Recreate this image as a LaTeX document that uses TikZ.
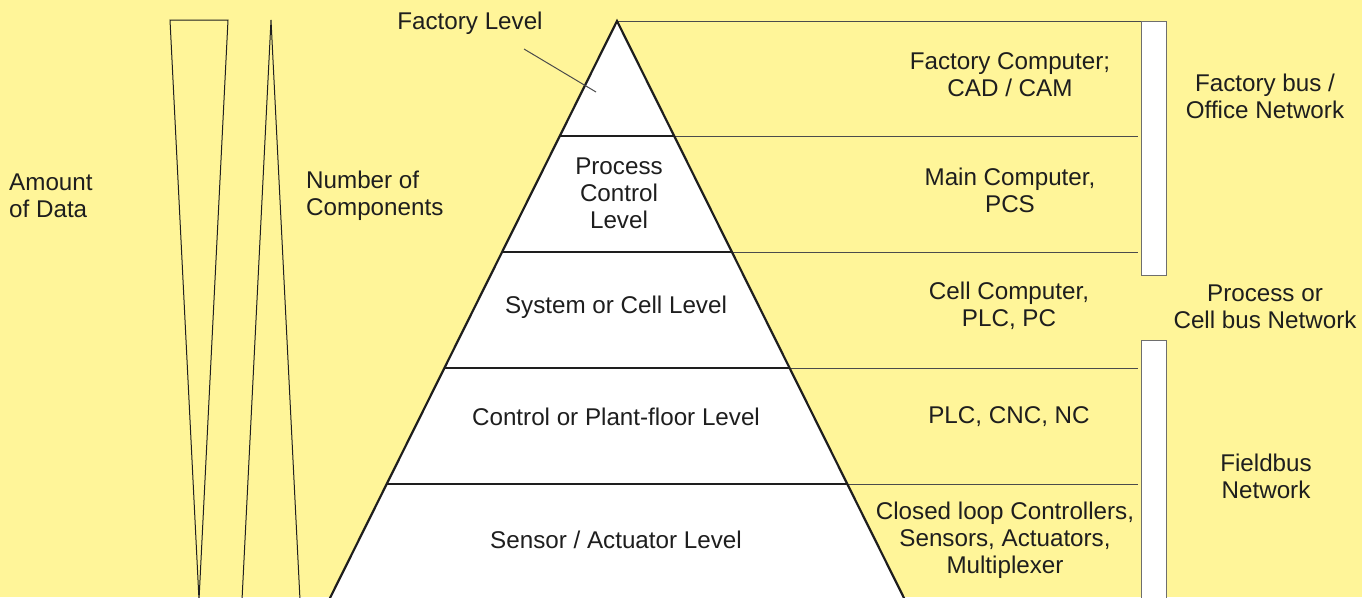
\documentclass[tikz,border=0pt]{standalone}
\usepackage{fontspec}
\setmainfont{Liberation Sans}
\definecolor{bgyellow}{RGB}{255,245,153}
\definecolor{ink}{RGB}{30,30,30}
\definecolor{boxgray}{RGB}{110,110,110}
\begin{document}
\begin{tikzpicture}[x=1pt,y=-1pt,
  lbl/.style={text=ink,font=\fontsize{24.2}{27}\selectfont,align=center,inner sep=0pt},
  lbll/.style={lbl,align=left,anchor=west},
  pyr/.style={draw=ink,line width=2.2pt,line join=miter},
  lvl/.style={draw=ink,line width=2pt},
  ext/.style={draw=ink!80,line width=1pt},
  wedge/.style={draw=ink,line width=1pt},
  busbox/.style={draw=boxgray,fill=white,line width=1pt}]
\fill[bgyellow] (0,0) rectangle (1362,597);
\useasboundingbox (0,0) rectangle (1362,597);
\begin{scope}
\clip (0,0) rectangle (1362,597);
% wedges
\draw[wedge] (170,20) -- (228,20) -- (199,600) -- cycle;
\draw[wedge] (271,20) -- (241,620) (271,20) -- (301,620);
% pyramid
\coordinate (apex) at (617,21);
\coordinate (bl) at (329,600);
\coordinate (br) at (905,600);
\fill[white] (apex) -- (bl) -- (br) -- cycle;
% level coordinates
\coordinate (l1) at (559.7,136); \coordinate (r1) at (674.3,136);
\coordinate (l2) at (501.9,252); \coordinate (r2) at (732.1,252);
\coordinate (l3) at (444.1,368); \coordinate (r3) at (789.9,368);
\coordinate (l4) at (386.3,484); \coordinate (r4) at (847.7,484);
\coordinate (e1) at (1138,136);
\coordinate (e2) at (1138,252);
\coordinate (e3) at (1138,368);
\coordinate (e4) at (1138,484);
\coordinate (e0) at (1141,21);
\draw[lvl] (l1) -- (r1) (l2) -- (r2) (l3) -- (r3) (l4) -- (r4);
\draw[ext] (r1) -- (e1) (r2) -- (e2) (r3) -- (e3) (r4) -- (e4);
\draw[ext] (apex) -- (e0);
\draw[pyr] (bl) -- (apex) -- (br);
% bus boxes
\draw[busbox] (1141,21) rectangle (1166,275);
\draw[busbox] (1141,340) rectangle (1166,610);
\end{scope}
% labels
\node[lbl] (fl) at (470,23) {Factory Level};
\coordinate (flend) at (596,92);
\draw[ext] (524,49) -- (flend);
\node[lbl] (pcl) at (619,193) {Process\\Control\\Level};
\node[lbl] (scl) at (616,307) {System or Cell Level};
\node[lbl] (cpl) at (616,417) {Control or Plant-floor Level};
\node[lbl] (sal) at (616,540) {Sensor / Actuator Level};
\node[lbl] (fc) at (1010,75) {Factory Computer;\\CAD / CAM};
\node[lbl] (mc) at (1010,190) {Main Computer,\\PCS};
\node[lbl] (cc) at (1009,306) {Cell Computer,\\PLC, PC};
\node[lbl] (plc) at (1009,417) {PLC, CNC, NC};
\node[lbl] (clc) at (1005,540) {Closed loop Controllers,\\Sensors, Actuators,\\Multiplexer};
\node[lbl] (fb) at (1265,96) {Factory bus /\\Office Network};
\node[lbl] (pb) at (1265,307) {Process or\\Cell bus Network};
\node[lbl] (fbn) at (1266,476) {Fieldbus\\Network};
\node[lbll] (aod) at (9,196) {Amount\\of Data};
\node[lbll] (noc) at (306,196) {Number of\\Components};
\end{tikzpicture}
\end{document}
